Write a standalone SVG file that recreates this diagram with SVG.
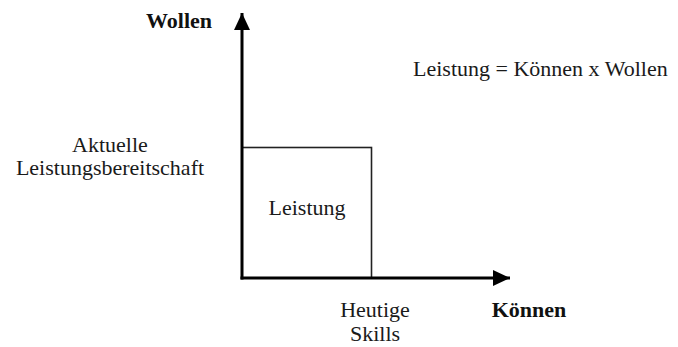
<svg xmlns="http://www.w3.org/2000/svg" width="678" height="347" viewBox="0 0 678 347">
<style>
.t{font-family:'Liberation Serif','Times New Roman',serif;font-size:22px;fill:#1a1a1a}
.b{font-weight:bold;fill:#111}
.axis{stroke:#000;stroke-width:3;fill:none}
.box{stroke:#222;stroke-width:1.6;fill:#fff}
</style>
<defs>
<marker id="ah" markerUnits="userSpaceOnUse" markerWidth="20" markerHeight="18" refX="17" refY="8" orient="auto">
<path d="M0,0 L17,8 L0,16 Z" fill="#000"/>
</marker>
</defs>
<rect width="678" height="347" fill="#fff"/>
<g id="leistung">
<rect class="box" x="242" y="147.5" width="129.5" height="130.5"/>
<text class="t" x="307" y="215" text-anchor="middle">Leistung</text>
</g>
<g id="connectors">
<line class="axis" x1="242" y1="279.5" x2="242" y2="13" marker-end="url(#ah)"/>
<line class="axis" x1="240.5" y1="278" x2="510" y2="278" marker-end="url(#ah)"/>
</g>
<g id="wollen"><text class="t b" x="179" y="28" text-anchor="middle">Wollen</text></g>
<g id="koennen"><text class="t b" x="529" y="317" text-anchor="middle">Können</text></g>
<g id="formel"><text class="t" x="413" y="76">Leistung = Können x Wollen</text></g>
<g id="bereitschaft">
<text class="t" x="110" y="152" text-anchor="middle">Aktuelle</text>
<text class="t" x="110" y="175" text-anchor="middle">Leistungsbereitschaft</text>
</g>
<g id="skills">
<text class="t" x="375" y="317" text-anchor="middle">Heutige</text>
<text class="t" x="375" y="341" text-anchor="middle">Skills</text>
</g>
</svg>
